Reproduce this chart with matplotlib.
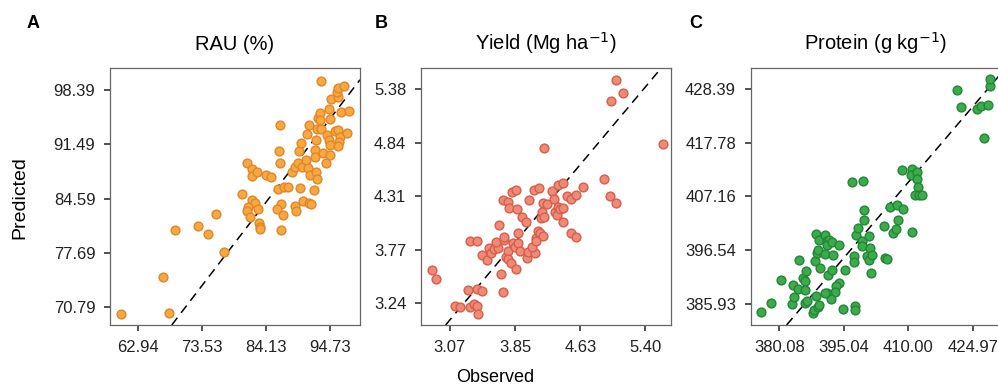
import matplotlib
matplotlib.use('Agg')
import matplotlib.pyplot as plt

plt.rcParams['font.family'] = ['Liberation Sans', 'DejaVu Sans']

# Panel A: RAU (%)
rau_obs = [60.08, 68.08, 66.98, 69.02, 72.77, 74.54, 75.81, 77.13, 80.11, 80.89,
           81.88, 81.72, 82.71, 84.20, 84.92, 81.88, 82.27, 81.16, 81.05, 82.82,
           81.44, 82.99, 83.10, 83.21, 86.13, 87.07, 87.79, 86.52, 86.24, 86.41,
           86.68, 85.97, 86.90, 86.68, 88.45, 88.89, 89.44, 89.61, 89.99, 89.83,
           89.00, 89.06, 90.27, 91.21, 91.54, 90.16, 90.82, 91.10, 91.37, 92.09,
           92.31, 92.37, 92.31, 92.48, 92.64, 90.93, 91.21, 92.81, 93.03, 92.64,
           93.30, 93.58, 94.02, 94.68, 94.30, 94.52, 94.68, 94.52, 93.30, 94.85,
           96.06, 95.95, 96.06, 97.00, 96.62, 97.83, 95.62, 96.06, 96.34, 96.23,
           96.06, 97.61, 94.68, 93.03]
rau_pred = [69.89, 70.06, 74.60, 80.58, 81.05, 80.07, 82.66, 77.82, 85.20, 89.11,
            88.34, 87.49, 87.96, 87.58, 87.28, 84.40, 83.97, 83.55, 83.04, 83.21,
            82.28, 81.43, 81.00, 80.67, 85.84, 86.01, 86.05, 93.94, 90.59, 89.15,
            83.89, 83.21, 82.53, 80.58, 88.00, 88.64, 89.06, 90.63, 91.61, 85.97,
            83.63, 83.04, 84.27, 83.97, 83.93, 88.55, 89.49, 88.43, 87.58, 85.67,
            90.76, 92.03, 89.83, 88.00, 87.03, 92.79, 93.94, 94.79, 95.42, 93.39,
            93.39, 90.34, 89.15, 90.08, 92.67, 92.03, 91.40, 95.93, 99.58, 97.25,
            97.54, 98.18, 98.61, 98.90, 95.64, 95.72, 93.18, 93.30, 92.46, 91.82,
            91.27, 92.88, 94.66, 94.58]
rau_xticks = [62.94, 73.53, 84.13, 94.73]
rau_yticks = [70.79, 77.69, 84.59, 91.49, 98.39]

# Panel B: Yield (Mg ha-1)
yield_obs = [2.858, 2.906, 3.139, 3.199, 3.312, 3.360, 3.392, 3.408, 3.288, 3.400,
             3.453, 3.702, 3.682, 3.312, 3.392, 3.453, 3.521, 3.541, 3.569, 3.601,
             3.642, 3.629, 3.654, 3.714, 3.714, 3.742, 3.762, 3.770, 3.802, 3.863,
             3.822, 3.855, 3.883, 3.883, 3.915, 3.935, 3.975, 3.995, 4.003, 4.084,
             4.056, 4.096, 4.124, 4.144, 4.184, 3.702, 3.770, 3.774, 3.871, 3.818,
             3.863, 4.011, 4.076, 4.132, 4.156, 4.176, 4.196, 4.188, 4.225, 4.196,
             4.293, 4.317, 4.325, 4.345, 4.357, 4.365, 4.385, 4.426, 4.426, 4.418,
             4.474, 4.518, 4.574, 4.655, 4.518, 4.582, 4.912, 4.977, 5.049, 4.997,
             5.057, 5.133, 5.612, 4.096]
yield_pred = [3.573, 3.483, 3.213, 3.207, 3.207, 3.233, 3.217, 3.133, 3.373, 3.387,
              3.363, 3.357, 3.536, 3.863, 3.866, 3.726, 3.673, 3.790, 3.746, 3.780,
              3.790, 3.856, 4.023, 3.873, 3.906, 3.706, 3.766, 3.683, 3.640, 3.580,
              3.846, 3.806, 3.840, 3.940, 3.763, 4.106, 4.050, 3.690, 3.756, 3.746,
              3.806, 3.896, 3.966, 3.940, 3.913, 4.273, 4.256, 4.196, 4.183, 4.356,
              4.373, 4.273, 4.373, 4.390, 4.090, 4.150, 4.106, 4.246, 4.230, 4.790,
              4.363, 4.280, 4.156, 4.123, 4.200, 4.423, 4.180, 4.446, 4.190, 4.056,
              4.313, 4.280, 4.320, 4.406, 3.946, 3.906, 4.486, 4.313, 4.246, 5.260,
              5.470, 5.343, 4.830, 3.863]
yield_xticks = [3.07, 3.85, 4.63, 5.40]
yield_yticks = [3.24, 3.77, 4.31, 4.84, 5.38]

# Panel C: Protein (g kg-1)
prot_obs = [375.83, 378.15, 380.40, 382.96, 383.50, 383.19, 384.35, 384.74, 385.52, 386.06,
            386.06, 386.29, 386.06, 386.45, 387.84, 388.00, 388.62, 388.93, 389.16, 388.38,
            388.77, 388.93, 389.39, 388.62, 389.16, 390.71, 391.10, 391.48, 391.10, 390.71,
            392.26, 392.41, 391.33, 392.26, 393.81, 393.81, 393.27, 392.88, 391.10, 392.10,
            390.71, 395.36, 394.82, 397.69, 397.69, 396.91, 399.47, 397.45, 397.45, 397.92,
            398.31, 399.24, 399.24, 399.78, 399.78, 400.40, 400.79, 401.02, 400.79, 401.56,
            401.41, 404.43, 404.51, 405.05, 405.83, 406.45, 407.38, 407.22, 407.61, 408.69,
            408.54, 410.86, 410.71, 410.86, 412.03, 412.03, 412.26, 411.64, 412.41, 413.19,
            421.17, 422.26, 425.98, 426.76, 428.46, 427.53, 428.85, 429.00]
prot_pred = [384.41, 386.19, 390.69, 385.93, 387.25, 389.70, 388.84, 394.66, 391.02, 390.36,
             388.70, 392.34, 386.06, 386.59, 384.08, 384.74, 387.52, 385.40, 385.73, 394.33,
             395.98, 396.64, 393.00, 399.82, 398.49, 399.62, 398.30, 398.63, 397.63, 395.85,
             398.10, 395.65, 391.68, 392.54, 397.63, 390.03, 389.37, 388.37, 388.04, 386.85,
             388.18, 392.54, 385.00, 385.60, 384.74, 410.00, 410.20, 395.32, 394.19, 399.55,
             400.94, 398.30, 397.30, 402.59, 404.45, 395.32, 399.42, 396.97, 394.66, 395.65,
             392.01, 401.40, 394.99, 394.86, 405.04, 399.95, 405.57, 400.74, 402.59, 404.77,
             412.32, 412.52, 411.39, 400.08, 411.99, 410.66, 409.08, 407.36, 407.36, 407.42,
             428.19, 424.75, 424.42, 425.08, 425.28, 418.67, 429.05, 430.37]
prot_xticks = [380.08, 395.04, 410.00, 424.97]
prot_yticks = [385.93, 396.54, 407.16, 417.78, 428.39]

fig = plt.figure(figsize=(9.98, 3.88), dpi=100)

panels = [
    ('A', 'RAU (%)', rau_obs, rau_pred, rau_xticks, rau_yticks,
     (58.26, 99.7), (68.5, 101.2), '#F7A940', '#E2852A', 0.1102, 0.027),
    ('B', 'Yield (Mg ha$^{-1}$)', yield_obs, yield_pred, yield_xticks, yield_yticks,
     (2.729, 5.708), (3.023, 5.593), '#F08A78', '#D65E4A', 0.4218, 0.376),
    ('C', 'Protein (g kg$^{-1}$)', prot_obs, prot_pred, prot_xticks, prot_yticks,
     (373.43, 431.4), (381.76, 432.56), '#3DAA4C', '#218637', 0.7522, 0.691),
]

for letter, title, obs, pred, xt, yt, xl, yl, fc, ec, left, lx in panels:
    ax = fig.add_axes([left, 0.1624, 0.2505, 0.6624])
    ax.axline((xl[0], xl[0]), slope=1, color='black', lw=1.1,
              dashes=(6, 4), zorder=1)
    ax.scatter(obs, pred, s=40, facecolor=fc, edgecolor=ec, linewidth=1.0, zorder=2)
    ax.set_xlim(*xl)
    ax.set_ylim(*yl)
    ax.set_xticks(xt)
    ax.set_yticks(yt)
    ax.set_xticklabels(['%.2f' % v for v in xt])
    ax.set_yticklabels(['%.2f' % v for v in yt])
    ax.tick_params(direction='out', length=4.5, width=1.1, pad=6,
                   labelsize=12, colors='#222222', labelcolor='#222222')
    for s in ax.spines.values():
        s.set_color('#666666')
        s.set_linewidth(0.9)
    ax.set_title(title, fontsize=14.5, pad=13)
    fig.text(lx, 0.94, letter, fontsize=13, fontweight='bold',
             ha='left', va='center')

fig.text(0.02, 0.49, 'Predicted', rotation=90, fontsize=14, ha='center', va='center')
fig.text(0.496, 0.026, 'Observed', fontsize=13, ha='center', va='center')

fig.savefig('out.png', dpi=100)
